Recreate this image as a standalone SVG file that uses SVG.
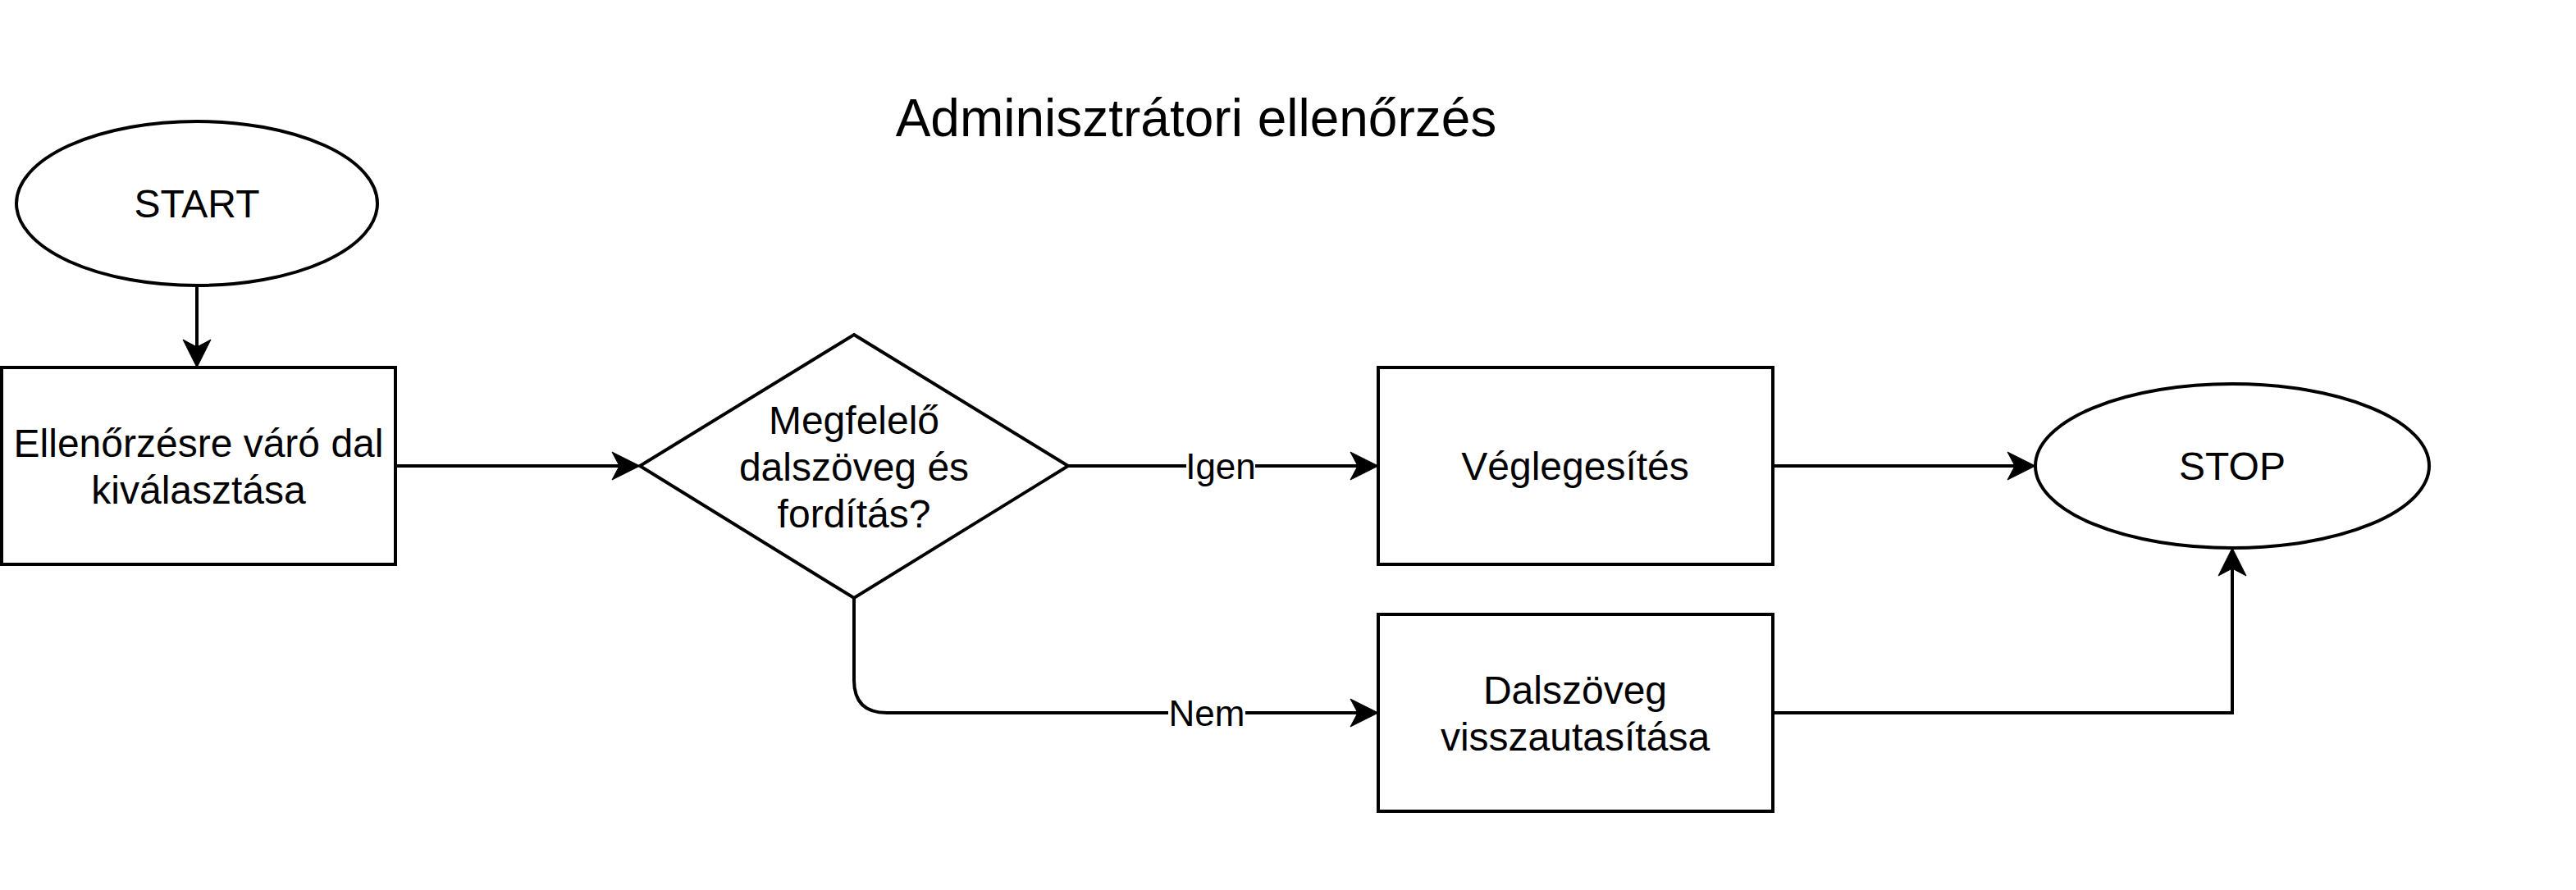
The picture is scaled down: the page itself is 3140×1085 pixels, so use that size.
<svg xmlns="http://www.w3.org/2000/svg" width="3140" height="1085" viewBox="0 0 3140 1085">
<style>
.shape{fill:#fff;stroke:#000;stroke-width:4}
.lbl{font-family:"Liberation Sans",Arial,sans-serif;font-size:48px;fill:#000;text-anchor:middle;dominant-baseline:central}
.elbl{font-family:"Liberation Sans",Arial,sans-serif;font-size:44px;fill:#000;text-anchor:middle;dominant-baseline:central}
.title{font-family:"Liberation Sans",Arial,sans-serif;font-size:64px;fill:#000;text-anchor:middle;dominant-baseline:central}
.edge{fill:none;stroke:#000;stroke-width:4}
.bg{fill:#fff;stroke:none}
</style>
<defs>
<marker id="arr" markerUnits="userSpaceOnUse" markerWidth="36" markerHeight="36" viewBox="0 0 36 36" refX="10" refY="18" orient="auto">
<path d="M35,18 L1,1 L10,18 L1,35 Z" fill="#000" stroke="#000" stroke-width="1"/>
</marker>
</defs>
<rect width="3140" height="1085" fill="#fff"/>
<text class="title" x="1458" y="144">Adminisztrátori ellenőrzés</text>
<g id="connectors">
<path class="edge" d="M240,348 L240,423" marker-end="url(#arr)"/>
<path class="edge" d="M482,568 L755,568" marker-end="url(#arr)"/>
<path class="edge" d="M1302,568 L1655,568" marker-end="url(#arr)"/>
<path class="edge" d="M2161,568 L2456,568" marker-end="url(#arr)"/>
<path class="edge" d="M1041,729 L1041,829 Q1041,869 1081,869 L1655,869" marker-end="url(#arr)"/>
<path class="edge" d="M2161,869 L2721,869 L2721,693" marker-end="url(#arr)"/>
<rect class="bg" x="1446" y="545" width="84" height="46"/>
<text class="elbl" x="1488" y="568">Igen</text>
<rect class="bg" x="1424" y="846" width="94" height="46"/>
<text class="elbl" x="1471" y="869">Nem</text>
</g>
<g id="start">
<ellipse class="shape" cx="240" cy="248" rx="220" ry="100"/>
<text class="lbl" x="240" y="248">START</text>
</g>
<g id="select">
<rect class="shape" x="2" y="448" width="480" height="240"/>
<text class="lbl" x="242" y="540">Ellenőrzésre váró dal</text>
<text class="lbl" x="242" y="597">kiválasztása</text>
</g>
<g id="decision">
<polygon class="shape" points="1041,408 1302,568 1041,729 780,568"/>
<text class="lbl" x="1041" y="512">Megfelelő</text>
<text class="lbl" x="1041" y="569">dalszöveg és</text>
<text class="lbl" x="1041" y="626">fordítás?</text>
</g>
<g id="finalize">
<rect class="shape" x="1680" y="448" width="481" height="240"/>
<text class="lbl" x="1920" y="568">Véglegesítés</text>
</g>
<g id="reject">
<rect class="shape" x="1680" y="749" width="481" height="240"/>
<text class="lbl" x="1920" y="841">Dalszöveg</text>
<text class="lbl" x="1920" y="898">visszautasítása</text>
</g>
<g id="stop">
<ellipse class="shape" cx="2721" cy="568" rx="240" ry="100"/>
<text class="lbl" x="2721" y="568">STOP</text>
</g>
</svg>
